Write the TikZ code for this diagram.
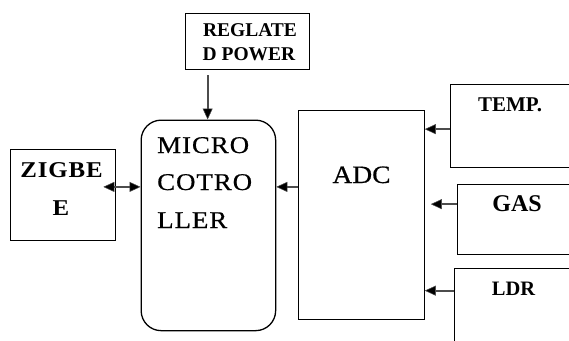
\documentclass[tikz,border=0pt]{standalone}
\usepackage{fontspec}
\setmainfont{Liberation Serif}
\newfontfamily\wideserif[FakeStretch=1.12,LetterSpace=4,FakeBold=0.6]{Liberation Serif}
\newfontfamily\zigserif[FakeStretch=1.1,LetterSpace=4]{Liberation Serif}
\newfontfamily\adcserif[FakeStretch=1.1,FakeBold=0.6]{Liberation Serif}
\usetikzlibrary{arrows.meta}
\begin{document}
\begin{tikzpicture}[x=1pt,y=-1pt,
  box/.style={draw=black,line width=1.3pt,inner sep=0pt,anchor=north west},
  tip/.tip={Triangle[length=11pt,width=10pt,fill=black,line width=0.5pt]},
  arr/.style={draw=black!70,line width=1.8pt,-tip},
  darr/.style={draw=black!70,line width=1.8pt,tip-tip},
  txt/.style={inner sep=0pt,anchor=base},
  ltxt/.style={inner sep=0pt,anchor=base west},
  wide/.style={font=\wideserif\fontsize{24}{28}\selectfont},
  zfont/.style={font=\zigserif\fontsize{22.6}{27}\selectfont\bfseries}]
\useasboundingbox (0,0) rectangle (569,340);
\fill[white] (0,0) rectangle (569,340);
\clip (0,0) rectangle (569,340);
% boxes
\node[box,minimum width=105.5pt,minimum height=91.5pt] (zig) at (9.5,148.5) {};
\node[box,minimum width=124pt,minimum height=56.5pt] (reg) at (185,12.5) {};
\node[box,rounded corners=20pt,minimum width=134.5pt,minimum height=210.5pt] (micro) at (140.5,119.5) {};
\node[box,minimum width=126pt,minimum height=208.5pt] (adc) at (297.5,110) {};
\node[box,minimum width=140pt,minimum height=83pt] (temp) at (450,84) {};
\node[box,minimum width=140pt,minimum height=70pt] (gas) at (456.5,183.5) {};
\node[box,minimum width=140pt,minimum height=100pt] (ldr) at (453.5,267.5) {};
% texts
\node[txt,font=\fontsize{19.5}{23}\selectfont\bfseries] (reg1) at (250,36.5) {REGLATE};
\node[txt,font=\fontsize{19.5}{23}\selectfont\bfseries] (reg2) at (249,60) {D POWER};
\node[ltxt,wide] (mic1) at (157,153) {MICRO};
\node[ltxt,wide] (mic2) at (157,190) {COTRO};
\node[ltxt,wide] (mic3) at (157,228) {LLER};
\node[txt,zfont] (zig1) at (61.5,177) {ZIGBE};
\node[txt,zfont] (zig2) at (61,215) {E};
\node[txt,font=\adcserif\fontsize{25}{29}\selectfont] (adct) at (361.5,183) {ADC};
\node[txt,font=\fontsize{21}{25}\selectfont\bfseries] (tempt) at (510,111) {TEMP.};
\node[txt,font=\fontsize{24}{28}\selectfont\bfseries] (gast) at (517,211) {GAS};
\node[txt,font=\fontsize{20.5}{24}\selectfont\bfseries] (ldrt) at (513.5,295.7) {LDR};
% connectors
\draw[arr,shorten <=5pt] ([xshift=-40pt]reg.south) -- ([xshift=-40pt]reg.south |- micro.north);
\draw[darr] ([xshift=-13pt,yshift=8pt]zig.east) -- ([yshift=8pt]zig.east -| micro.west);
\draw[arr] ([yshift=28pt]adc.west) -- ([yshift=28pt]adc.west -| micro.east);
\draw[arr] ([yshift=-3pt]temp.west) -- ([yshift=-3pt]temp.west -| adc.east);
\draw[arr,shorten >=6pt] ([yshift=15pt]gas.west) -- ([yshift=15pt]gas.west -| adc.east);
\draw[arr] ([yshift=27.5pt]ldr.west) -- ([yshift=27.5pt]ldr.west -| adc.east);
\end{tikzpicture}
\end{document}
